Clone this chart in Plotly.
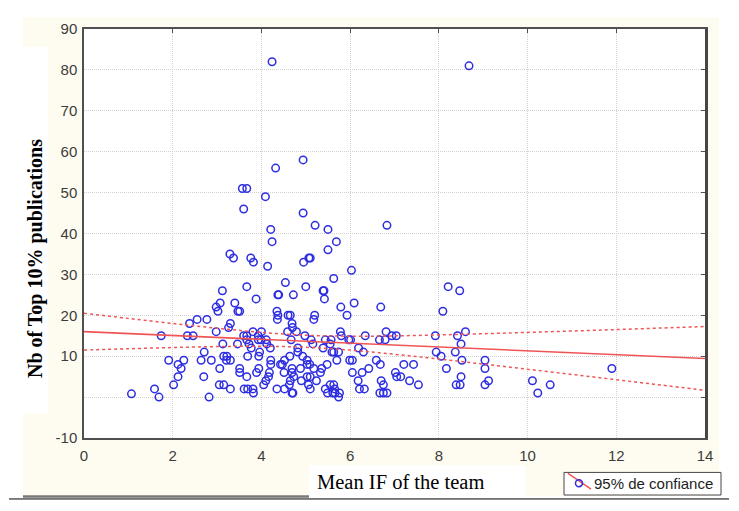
import plotly.graph_objects as go

# ---------------- data ----------------
pts_x = [4.24, 8.68, 4.94, 4.32, 3.57, 3.67, 4.09, 3.60, 4.94, 5.21, 6.83, 5.50, 4.21, 4.24, 5.69, 5.50,
         3.29, 3.37, 3.76, 3.82, 4.14, 4.95, 5.07, 5.10,
         1.07, 1.59, 1.69, 1.74, 1.91, 2.02, 2.12, 2.12, 2.19, 2.25, 2.33, 2.46, 2.38, 2.55, 2.64, 2.71,
         2.70, 2.77, 2.82, 2.87, 2.98, 2.98, 3.02, 3.07, 3.06, 3.05, 3.15, 3.13, 3.12, 3.15, 3.21, 3.30,
         3.22, 3.30, 3.26, 3.30, 3.40, 3.47, 3.51, 3.51, 3.51, 3.46, 3.67, 3.67, 3.61, 3.69, 3.67, 3.67,
         3.60, 3.72, 3.69, 3.77, 3.81, 3.81, 3.82, 3.88, 3.89, 3.93, 3.93, 3.99, 3.94, 3.96, 3.94, 4.00,
         4.05, 4.10, 4.11, 4.12, 4.20, 4.21, 4.21, 4.18, 4.16, 4.35, 4.37, 4.39, 4.37, 4.36, 4.35, 4.43,
         4.47, 4.54, 4.52, 4.51, 4.52, 4.60, 4.65, 4.59, 4.63, 4.65, 4.69, 4.70, 4.67, 4.64, 4.69, 4.69,
         4.73, 4.69, 4.71, 4.72, 4.79, 4.82, 4.82, 4.88, 4.90, 5.00, 4.93, 4.98, 5.03, 5.03, 5.09, 5.06,
         5.10, 5.03, 5.10, 5.12, 5.16, 5.18, 5.20, 5.18, 5.24, 5.33, 5.36, 5.39, 5.39, 5.41, 5.42, 5.63,
         5.44, 5.48, 5.44, 5.55, 5.49, 5.55, 5.57, 5.59, 5.63, 5.61, 5.66, 5.63, 5.65, 5.70, 5.74, 5.76,
         5.74, 5.78, 5.80, 5.79, 5.93, 5.97, 6.01, 5.99, 6.05, 6.03, 6.05, 6.09, 6.18, 6.19, 6.21, 6.32,
         6.27, 6.30, 6.34, 6.42,
         6.69, 6.66, 6.79, 6.81, 6.59, 6.68, 6.70, 6.75, 6.67, 6.75, 6.83, 6.94, 7.04, 7.02, 7.05, 7.14,
         7.21, 7.34, 7.43, 7.54, 7.92, 7.94, 8.05, 8.09, 8.17, 8.21, 8.37, 8.42, 8.60, 8.47, 8.50, 8.52,
         8.50, 8.39, 8.48, 9.04, 9.04, 9.12, 9.04, 10.11, 10.23, 10.51, 11.90]
pts_y = [82, 81, 58, 56, 51, 51, 49, 46, 45, 42, 42, 41, 41, 38, 38, 36,
         35, 34, 34, 33, 32, 33, 34, 34,
         0.8, 2, 0, 15, 9, 3, 5, 8, 7, 9, 15, 15, 18, 19, 9, 11,
         5, 19, 0, 9, 16, 22, 21, 23, 7, 3, 3, 13, 26, 10, 9, 9,
         10, 18, 17, 2, 23, 21, 21, 7, 6, 13, 27, 5, 2, 2, 15, 14,
         15, 13, 10, 12, 16, 2, 1, 24, 6, 15, 14, 14, 10, 11, 7, 16,
         3, 4, 14, 13, 12, 9, 8, 6, 5, 2, 25, 25, 20, 19, 21, 8,
         8, 28, 9, 6, 2, 20, 20, 16, 3, 4, 18, 17, 14, 10, 7, 6,
         5, 1, 1, 25, 16, 12, 11, 7, 4, 27, 10, 15, 9, 8, 8, 3,
         2, 5, 5, 14, 13, 19, 20, 7, 4, 6, 7, 12, 26, 26, 24, 29,
         14, 8, 2, 3, 1, 13, 14, 11, 11, 1, 1, 3, 2, 9, 0, 1,
         11, 16, 15, 22, 20, 14, 14, 9, 9, 31, 6, 23, 4, 12, 2, 2,
         6, 11, 15, 7,
         22, 14, 14, 16, 9, 8, 4, 3, 1, 1, 1, 15, 15, 6, 5, 5,
         8, 4, 8, 3, 15, 11, 10, 21, 7, 27, 11, 15, 16, 26, 13, 9,
         5, 3, 3, 9, 7, 4, 3, 4, 1, 3, 7]

fit_x = [0, 1, 2, 3, 4, 5, 6, 7, 8, 9, 10, 11, 12, 13, 14]
fit_y = [16.0, 15.53, 15.06, 14.60, 14.13, 13.66, 13.19, 12.72, 12.26, 11.79, 11.32, 10.85, 10.38, 9.92, 9.45]
upper_y = [20.5, 19.24, 18.0, 16.85, 15.83, 15.13, 14.89, 14.97, 15.2, 15.5, 15.82, 16.16, 16.51, 16.88, 17.25]
lower_y = [11.5, 11.82, 12.12, 12.35, 12.43, 12.19, 11.49, 10.47, 9.32, 8.08, 6.82, 5.54, 4.25, 2.96, 1.65]

x_ticks = [0, 2, 4, 6, 8, 10, 12, 14]
y_ticks = [-10, 0, 10, 20, 30, 40, 50, 60, 70, 80, 90]
y_tick_text = ["-10", "", "10", "20", "30", "40", "50", "60", "70", "80", "90"]

x_title = "Mean IF of the team"
y_title = "Nb of Top 10% publications"
legend_text = "95% de confiance"

# ---------------- layout geometry (screen pixels; page body has an 8px margin) ----------------
OFF = 8
W, H = 723, 495
PL, PR, PT, PB = 84, 705, 22, 438          # plot area in screen px
ML, MR, MT, MB = PL - OFF, OFF + W - PR, PT - OFF, OFF + H - PB
PW, PH = PR - PL, PB - PT
def px(xp): return (xp - PL) / PW
def py(yp): return (PB - yp) / PH

BLUE = "rgb(45,45,225)"
RED = "rgb(240,85,85)"
CREAM = "rgb(254,252,240)"
AX = "rgb(80,80,80)"
GRID = "rgb(210,210,210)"
TICKFONT = dict(family="Liberation Sans, Arial", size=15, color="rgb(60,60,60)")

fig = go.Figure()
fig.add_trace(go.Scatter(x=pts_x, y=pts_y, mode="markers",
                         marker=dict(symbol="circle-open", size=7.5, color=BLUE, line=dict(width=1.5, color=BLUE)),
                         showlegend=False, hoverinfo="x+y"))
fig.add_trace(go.Scatter(x=fit_x, y=fit_y, mode="lines", line=dict(color=RED, width=1.6), showlegend=False))
fig.add_trace(go.Scatter(x=fit_x, y=upper_y, mode="lines", line=dict(color=RED, width=1.5, dash="3px,3px", shape="spline"),
                         showlegend=False))
fig.add_trace(go.Scatter(x=fit_x, y=lower_y, mode="lines", line=dict(color=RED, width=1.5, dash="3px,3px", shape="spline"),
                         showlegend=False))
# invisible trace on mirror axes (top/right ticks)
fig.add_trace(go.Scatter(x=[0], y=[0], xaxis="x2", yaxis="y2", mode="markers",
                         marker=dict(opacity=0), showlegend=False, hoverinfo="skip"))

shapes = [
    dict(type="rect", xref="paper", yref="paper", x0=px(23), x1=px(719), y0=py(497), y1=py(10),
         fillcolor=CREAM, line=dict(width=0), layer="below"),
    dict(type="rect", xref="paper", yref="paper", x0=0, x1=1, y0=0, y1=1,
         fillcolor="white", line=dict(width=0), layer="below"),
    dict(type="rect", xref="paper", yref="paper", x0=px(23), x1=px(48), y0=py(413), y1=py(40),
         fillcolor="white", line=dict(width=0), layer="below"),
    dict(type="rect", xref="paper", yref="paper", x0=px(309), x1=px(525), y0=py(497), y1=py(466),
         fillcolor="white", line=dict(width=0), layer="below"),
    dict(type="line", xref="paper", yref="paper", x0=px(23), x1=px(309), y0=py(497.5), y1=py(497.5),
         line=dict(color="rgb(120,120,120)", width=2.5)),
    dict(type="line", xref="paper", yref="paper", x0=px(9), x1=px(729), y0=py(500), y1=py(500),
         line=dict(color="black", width=1)),
    # legend box
    dict(type="rect", xref="paper", yref="paper", x0=px(564), x1=px(721), y0=py(496), y1=py(473),
         fillcolor="white", line=dict(color="rgb(70,70,70)", width=1)),
    dict(type="line", xref="paper", yref="paper", x0=px(568), x1=px(591), y0=py(474), y1=py(490),
         line=dict(color=RED, width=1.5)),
    dict(type="circle", xref="paper", yref="paper", x0=px(575.5), x1=px(582.5), y0=py(487.5), y1=py(480.5),
         line=dict(color=BLUE, width=1.5)),
]

annotations = [
    dict(text="<b>" + y_title + "</b>", xref="paper", yref="paper", x=px(35), y=py(256), textangle=-90,
         showarrow=False, font=dict(family="Liberation Serif, Times New Roman", size=20, color="black"),
         xanchor="center", yanchor="middle"),
    dict(text=x_title, xref="paper", yref="paper", x=px(400), y=py(483), showarrow=False,
         font=dict(family="Liberation Serif, Times New Roman", size=20.5, color="black"),
         xanchor="center", yanchor="middle"),
    dict(text=legend_text, xref="paper", yref="paper", x=px(592), y=py(484.5), showarrow=False,
         font=dict(family="Liberation Sans, Arial", size=15, color="rgb(30,30,30)"),
         xanchor="left", yanchor="middle"),
]

fig.update_layout(
    width=W, height=H,
    margin=dict(l=ML, r=MR, t=MT, b=MB, pad=0),
    paper_bgcolor="white", plot_bgcolor="white",
    showlegend=False,
    shapes=shapes, annotations=annotations,
    xaxis=dict(range=[0, 14], tickvals=x_ticks, ticks="", showgrid=True, gridcolor=GRID, griddash="1px,1px",
               gridwidth=1, zeroline=False, showline=True, linecolor=AX, linewidth=1.5, tickfont=TICKFONT,
               ticklabelstandoff=3, fixedrange=True),
    yaxis=dict(range=[-10, 90], tickvals=y_ticks, ticktext=y_tick_text, ticks="", showgrid=True, gridcolor=GRID,
               griddash="1px,1px", gridwidth=1, zeroline=False, showline=True, linecolor=AX, linewidth=1.5,
               tickfont=TICKFONT, ticklabelstandoff=2, fixedrange=True),
    xaxis2=dict(range=[0, 14], overlaying="x", side="top", tickvals=x_ticks, ticks="inside", ticklen=4,
                tickcolor=AX, showticklabels=False, showgrid=False, zeroline=False, showline=True,
                linecolor=AX, linewidth=1.5, fixedrange=True),
    yaxis2=dict(range=[-10, 90], overlaying="y", side="right", tickvals=y_ticks, ticks="inside", ticklen=4,
                tickcolor=AX, showticklabels=False, showgrid=False, zeroline=False, showline=True,
                linecolor="rgb(70,70,70)", linewidth=2.5, fixedrange=True),
)

fig.write_html("out.html")
